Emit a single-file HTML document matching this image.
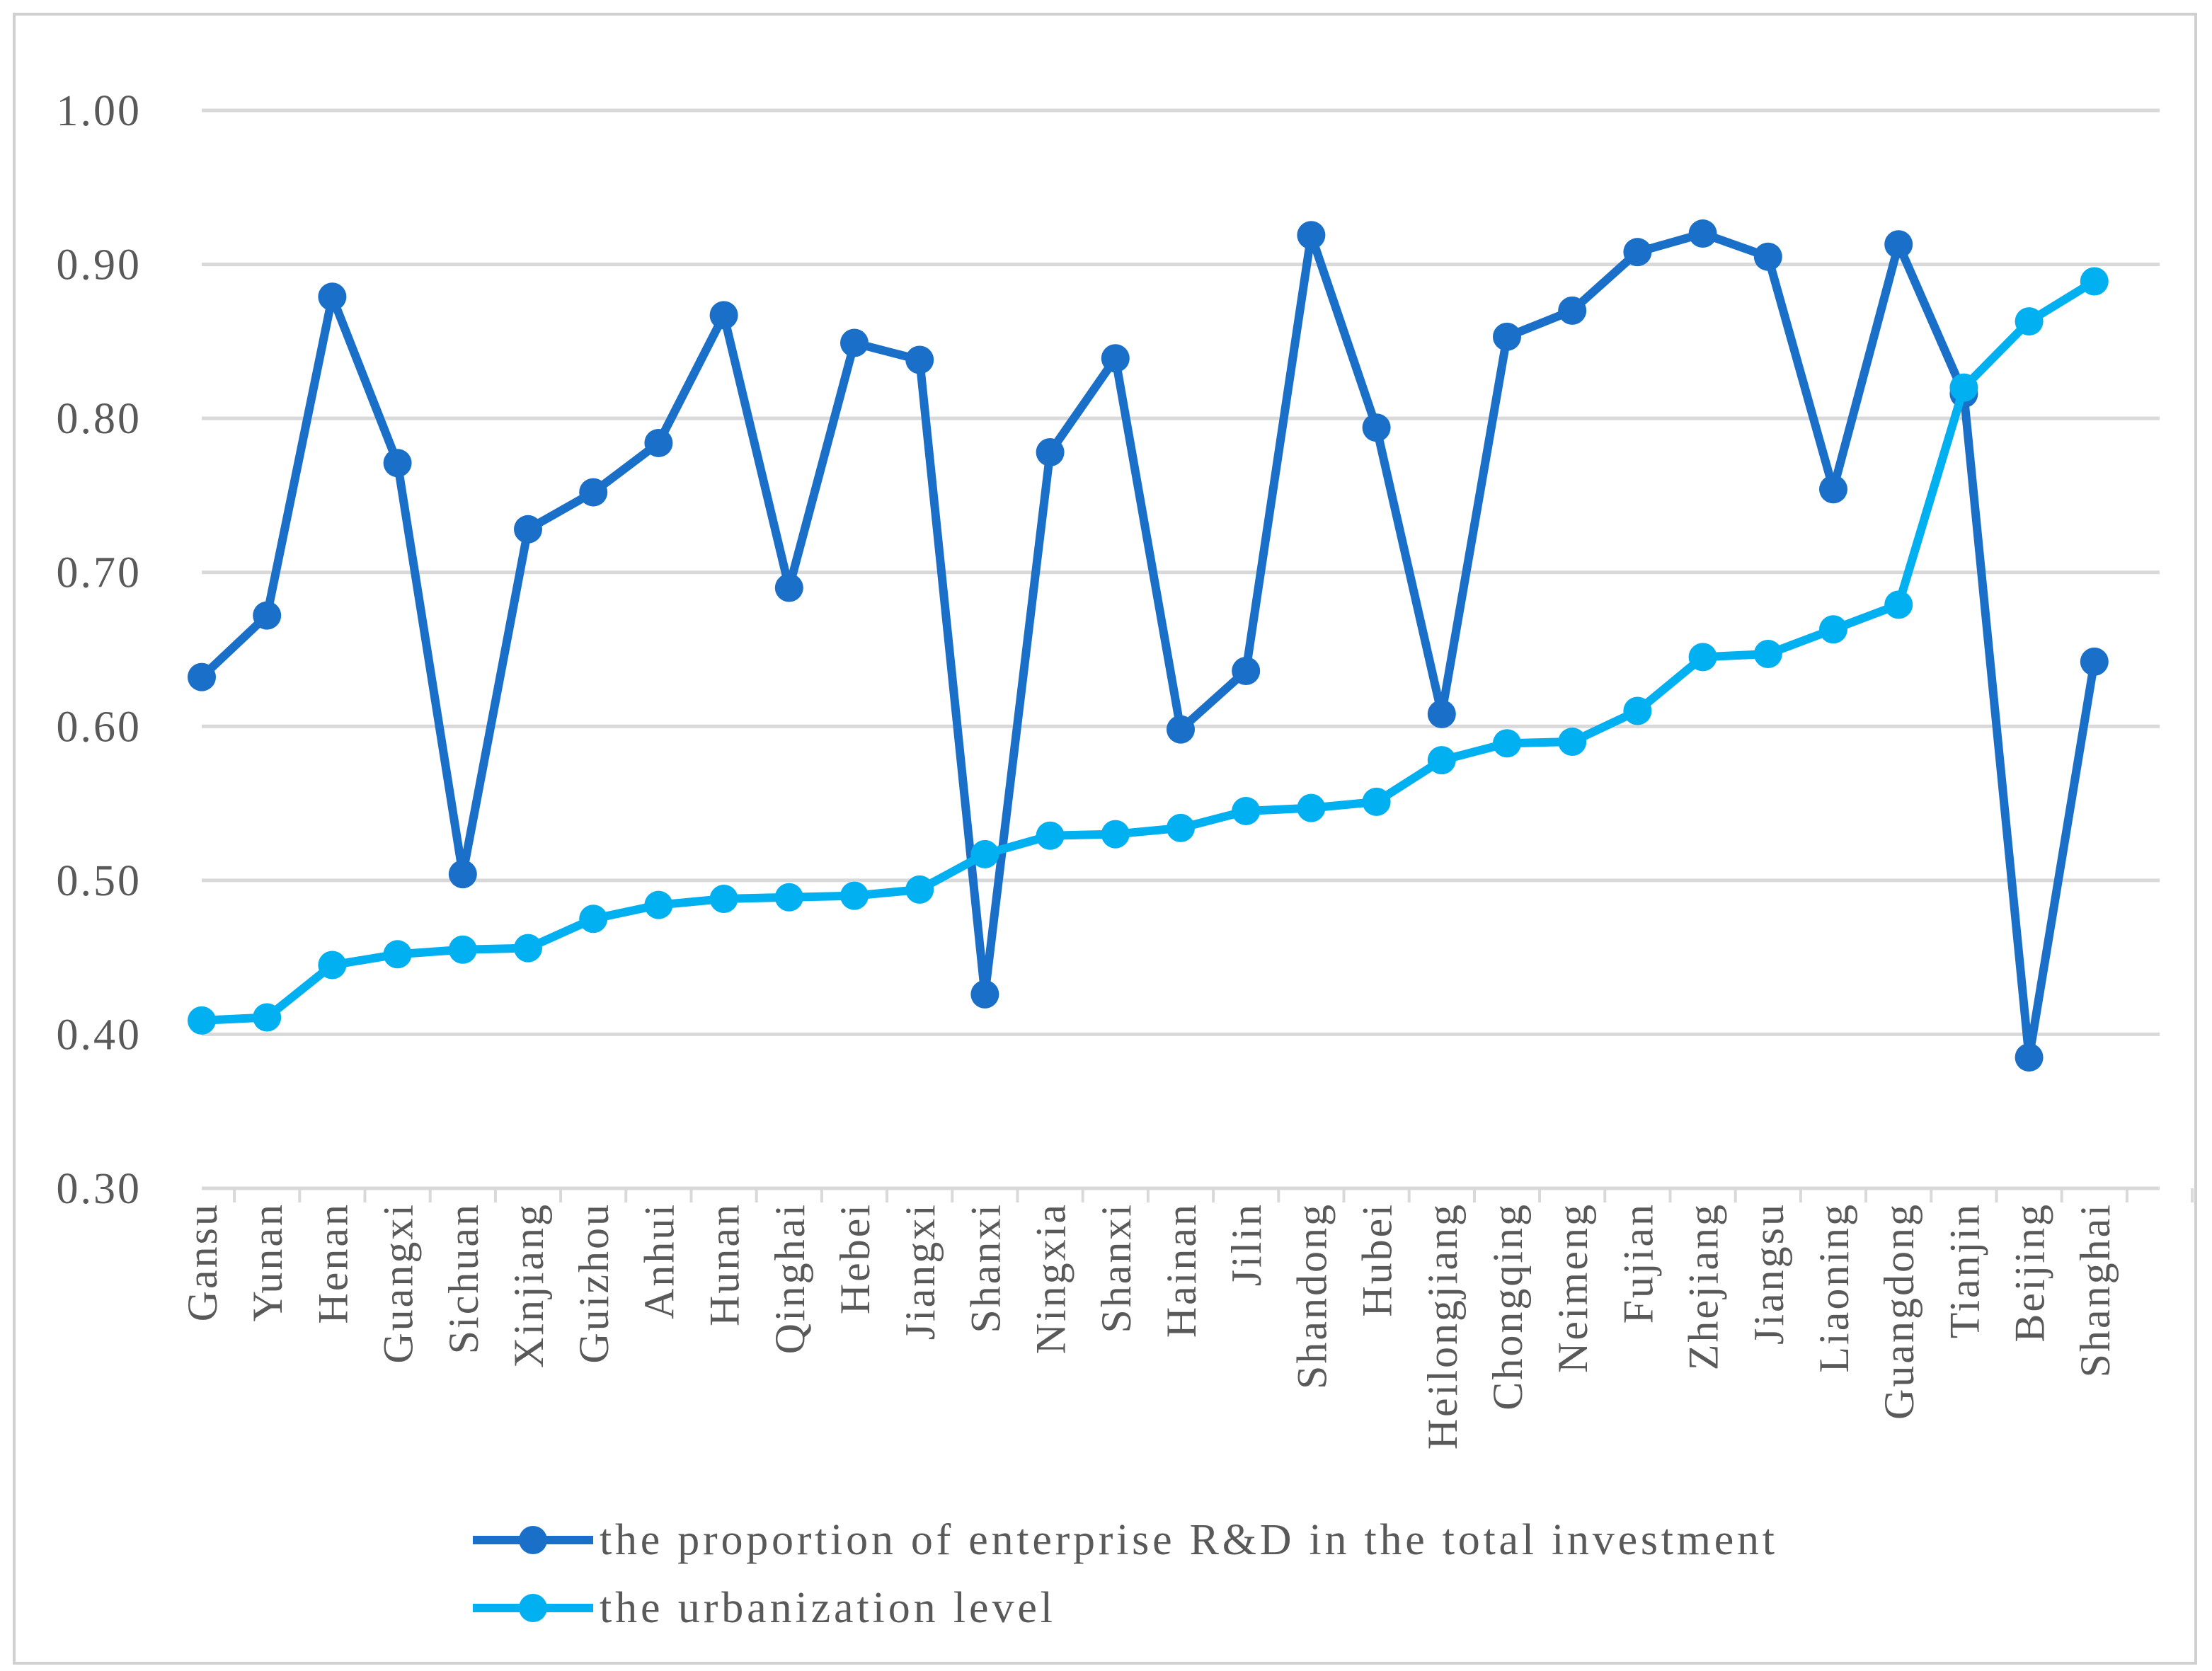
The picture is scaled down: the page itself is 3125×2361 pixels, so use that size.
<!DOCTYPE html>
<html><head><meta charset="utf-8"><style>
html,body{margin:0;padding:0;background:#fff;}
svg{display:block;}
text{font-family:"Liberation Serif",serif;fill:#595959;}
</style></head><body>
<svg id="chart" width="3125" height="2361" xmlns="http://www.w3.org/2000/svg">
<rect x="20" y="20" width="3082" height="2330" fill="#fff" stroke="#d0d0d0" stroke-width="4"/>
<g id="grid"></g>
<g id="yticks"></g>
<g id="xaxis"></g>
<g id="series"></g>
<g id="legend"></g>
</svg>
<script>
const categories=["Gansu","Yunan","Henan","Guangxi","Sichuan","Xinjiang","Guizhou","Anhui","Hunan","Qinghai","Hebei","Jiangxi","Shanxi","Ningxia","Shanxi","Hainan","Jilin","Shandong","Hubei","Heilongjiang","Chongqing","Neimeng","Fujian","Zhejiang","Jiangsu","Liaoning","Guangdong","Tianjin","Beijing","Shanghai"];
const rdValues=[0.632,0.672,0.879,0.771,0.504,0.728,0.752,0.784,0.867,0.690,0.849,0.838,0.426,0.778,0.839,0.598,0.636,0.919,0.794,0.608,0.853,0.870,0.908,0.920,0.905,0.754,0.913,0.816,0.385,0.642];
const urbanValues=[0.409,0.411,0.445,0.452,0.455,0.456,0.475,0.484,0.488,0.489,0.490,0.494,0.517,0.529,0.530,0.534,0.545,0.547,0.551,0.578,0.589,0.590,0.610,0.645,0.647,0.663,0.679,0.820,0.863,0.889];
const yTicks=[0.30,0.40,0.50,0.60,0.70,0.80,0.90,1.00];
const seriesNames=["the proportion of enterprise R&D in the total investment","the urbanization level"];
const NS="http://www.w3.org/2000/svg";
const left=285,step=92.2,right=left+30*step,yTop=156,yBot=1679,vMin=0.3,vMax=1.0;
const X=i=>left+i*step;
const Y=v=>yBot-(v-vMin)/(vMax-vMin)*(yBot-yTop);
function mk(tag,attrs,parent){const e=document.createElementNS(NS,tag);for(const k in attrs)e.setAttribute(k,attrs[k]);parent.appendChild(e);return e;}
const grid=document.getElementById('grid'),yt=document.getElementById('yticks'),xa=document.getElementById('xaxis'),sg=document.getElementById('series'),lg=document.getElementById('legend');
yTicks.forEach(v=>{
  const l=mk('line',{x1:left,x2:right,y1:Y(v),y2:Y(v),stroke:'#d9d9d9','stroke-width':5},grid);
  
  
  const t=mk('text',{x:200,y:Y(v)+21,'text-anchor':'end','font-size':62,'letter-spacing':3},yt);
  t.textContent=v.toFixed(2);
  
  
});
for(let i=0;i<=30;i++){
  const tk=mk('line',{x1:left+(i+0.5)*step,x2:left+(i+0.5)*step,y1:yBot,y2:yBot+20,stroke:'#d9d9d9','stroke-width':4},xa);
  
  
}
categories.forEach((c,i)=>{
  const x=X(i)+21,y=yBot+20;
  const t=mk('text',{x:x,y:y,'text-anchor':'end','font-size':60,'letter-spacing':3,transform:`rotate(-90 ${x} ${y})`},xa);
  t.textContent=c;
  
  
});
function drawSeries(vals,color,name){
  const g=mk('g',{},sg);
  
  
  const p=mk('polyline',{points:vals.map((v,i)=>X(i)+','+Y(v)).join(' '),fill:'none',stroke:color,'stroke-width':12,'stroke-linejoin':'round'},g);
  
  
  vals.forEach((v,i)=>{
    const c=mk('circle',{cx:X(i),cy:Y(v),r:20,fill:color},g);
    
    
  });
}
drawSeries(rdValues,'#1a70c8','rd-series');
drawSeries(urbanValues,'#00b0f0','urbanization-series');
[['#1a70c8',2176,1660],['#00b0f0',2272,640]].forEach((d,k)=>{
  const g=mk('g',{},lg);
  
  
  mk('line',{x1:668,x2:838,y1:d[1],y2:d[1],stroke:d[0],'stroke-width':12},g);
  mk('circle',{cx:753,cy:d[1],r:20,fill:d[0]},g);
  const t=mk('text',{x:847,y:d[1]+20,'font-size':62,textLength:d[2],lengthAdjust:'spacing'},g);
  t.textContent=seriesNames[k];
});
</script>
</body></html>
